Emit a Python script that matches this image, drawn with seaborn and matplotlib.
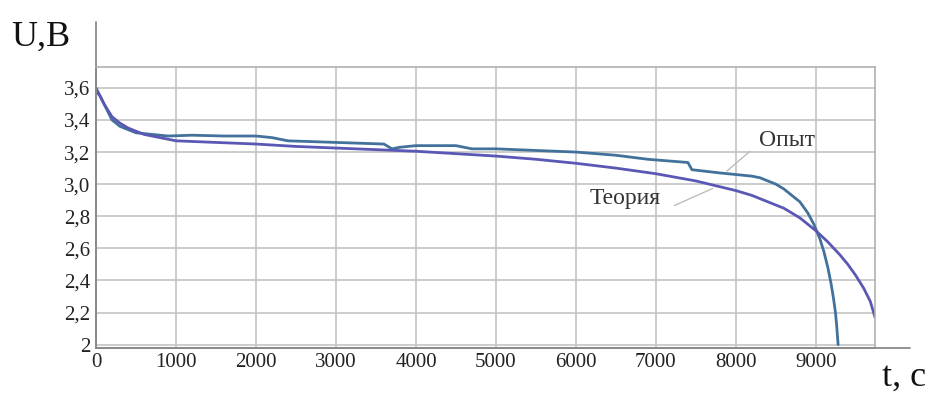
import numpy as np
import pandas as pd
import matplotlib
matplotlib.use("Agg")
import matplotlib.pyplot as plt
import seaborn as sns

# Experimental discharge curve (Опыт)
t_opyt = [0, 50, 100, 150, 200, 300, 400, 500, 700, 900, 1200, 1600, 2000, 2200,
          2400, 3000, 3600, 3700, 3800, 4000, 4500, 4700, 5000, 5500, 6000, 6500,
          6900, 7400, 7450, 7800, 8200, 8300, 8400, 8500, 8600, 8700, 8800, 8900,
          8975, 9050, 9100, 9150, 9190, 9220, 9245, 9260, 9272, 9278]
u_opyt = [3.58, 3.55, 3.5, 3.45, 3.4, 3.36, 3.34, 3.32, 3.31, 3.30, 3.305, 3.30,
          3.30, 3.29, 3.27, 3.26, 3.25, 3.22, 3.23, 3.24, 3.24, 3.22, 3.22, 3.21,
          3.20, 3.18, 3.155, 3.135, 3.09, 3.07, 3.05, 3.04, 3.02, 3.00, 2.97, 2.93,
          2.89, 2.82, 2.75, 2.66, 2.58, 2.48, 2.38, 2.29, 2.20, 2.12, 2.04, 2.00]

# Theoretical curve (Теория)
t_teor = [0, 50, 100, 200, 300, 400, 600, 800, 1000, 1500, 2000, 2500, 3000, 3500,
          4000, 4500, 5000, 5500, 6000, 6500, 7000, 7500, 8000, 8200, 8400, 8600,
          8800, 9000, 9150, 9300, 9400, 9500, 9600, 9680, 9740]
u_teor = [3.6, 3.55, 3.5, 3.42, 3.38, 3.35, 3.31, 3.29, 3.27, 3.26, 3.25, 3.235,
          3.225, 3.215, 3.205, 3.19, 3.175, 3.155, 3.13, 3.10, 3.065, 3.02, 2.96,
          2.93, 2.89, 2.85, 2.79, 2.71, 2.64, 2.56, 2.50, 2.43, 2.35, 2.27, 2.17]

x_ticks = [0, 1000, 2000, 3000, 4000, 5000, 6000, 7000, 8000, 9000]
y_ticks = [2.0, 2.2, 2.4, 2.6, 2.8, 3.0, 3.2, 3.4, 3.6]
y_labels = ["2", "2,2", "2,4", "2,6", "2,8", "3,0", "3,2", "3,4", "3,6"]

df = pd.concat([
    pd.DataFrame({"t": t_opyt, "U": u_opyt, "s": "Опыт"}),
    pd.DataFrame({"t": t_teor, "U": u_teor, "s": "Теория"}),
])

sns.set_style("white")
plt.rcParams["font.family"] = ["Liberation Serif", "DejaVu Serif"]

fig = plt.figure(figsize=(9.33, 3.94), dpi=100)
ax = fig.add_axes([0.1029, 0.117, 0.835, 0.713])

sns.lineplot(data=df, x="t", y="U", hue="s", sort=False, estimator=None,
             palette={"Опыт": "#42729c", "Теория": "#5a58b4"},
             linewidth=2.0, legend=False, ax=ax)

ax.set_xlim(0, 9740)
ax.set_ylim(1.98, 3.73)
ax.set_xticks(x_ticks)
ax.set_yticks(y_ticks)
ax.set_yticklabels(y_labels)
ax.grid(True, color="#c4c4c4", linewidth=1.2)
ax.set_axisbelow(True)
ax.tick_params(axis="both", labelsize=15, colors="#222222", length=0, pad=4)
ax.set_xlabel("")
ax.set_ylabel("")

for side in ["top", "right"]:
    ax.spines[side].set_color("#b0b0b0")
    ax.spines[side].set_linewidth(1.2)
for side in ["left", "bottom"]:
    ax.spines[side].set_color("#8a8a8a")
    ax.spines[side].set_linewidth(1.3)

# extended axis lines
ax.plot([0, 0], [0, 1.16], transform=ax.transAxes, color="#8a8a8a", lw=1.3, clip_on=False)
ax.plot([0, 1.045], [0, 0], transform=ax.transAxes, color="#8a8a8a", lw=1.3, clip_on=False)

# axis titles
fig.text(0.012, 0.885, "U,B", fontsize=26, color="#111111", ha="left", va="baseline")
fig.text(0.945, 0.02, "t, c", fontsize=26, color="#111111", ha="left", va="baseline")

# curve labels with leader lines
ax.text(8640, 3.27, "Опыт", fontsize=17, color="#333333", ha="center", va="center")
ax.text(6610, 2.91, "Теория", fontsize=17, color="#333333", ha="center", va="center")
ax.annotate("", xy=(7860, 3.07), xytext=(8200, 3.215),
            arrowprops=dict(arrowstyle="-", color="#b8b8b8", lw=0.9))
ax.annotate("", xy=(7740, 2.98), xytext=(7200, 2.86),
            arrowprops=dict(arrowstyle="-", color="#b8b8b8", lw=0.9))

fig.savefig("out.png", dpi=100)
